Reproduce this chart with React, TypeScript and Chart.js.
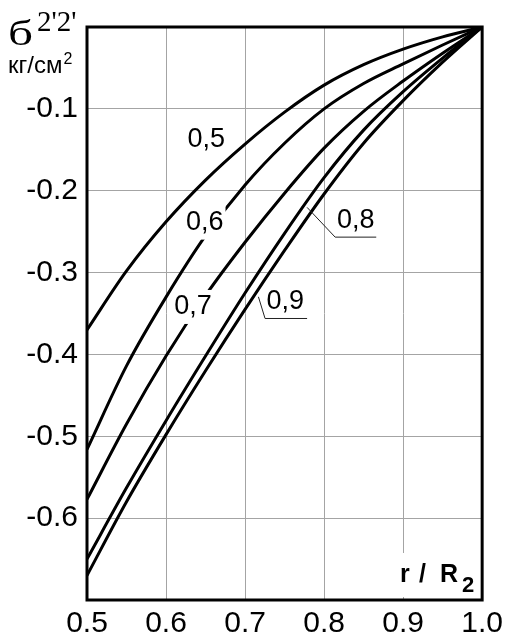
import { useEffect, useRef } from 'react';
import { Chart, registerables } from 'chart.js';

Chart.register(...registerables);

// r / R2 sample points shared by every curve
const radius = [0.5, 0.55, 0.6, 0.65, 0.7, 0.75, 0.8, 0.85, 0.9, 0.95, 1.0];

// σ2'2' (кг/см²) for each R1/R2 ratio
const stress05 = [-0.37, -0.298, -0.238, -0.187, -0.143, -0.104, -0.071, -0.046, -0.027, -0.012, 0];
const stress06 = [-0.516, -0.414, -0.33, -0.255, -0.193, -0.142, -0.1, -0.069, -0.045, -0.022, 0];
const stress07 = [-0.577, -0.485, -0.402, -0.328, -0.263, -0.203, -0.148, -0.103, -0.066, -0.032, 0];
const stress08 = [-0.65, -0.563, -0.481, -0.402, -0.325, -0.252, -0.184, -0.126, -0.079, -0.038, 0];
const stress09 = [-0.67, -0.58, -0.498, -0.42, -0.345, -0.273, -0.204, -0.142, -0.09, -0.043, 0];

const seriesNames = ['0,5', '0,6', '0,7', '0,8', '0,9'];
const seriesValues = [stress05, stress06, stress07, stress08, stress09];

const xTicks = [0.5, 0.6, 0.7, 0.8, 0.9, 1.0];
const yTicks = [-0.1, -0.2, -0.3, -0.4, -0.5, -0.6];

// Curve captions, placed in data units; some sit on their curve with a white knock-out
const captions = [
  { text: '0,5', x: 0.651, y: -0.137 },
  { text: '0,6', x: 0.649, y: -0.239, knockout: true },
  { text: '0,7', x: 0.634, y: -0.342, knockout: true },
  { text: '0,8', x: 0.84, y: -0.237, leader: [[0.7785, -0.2204], [0.814, -0.2567], [0.866, -0.2567]] },
  { text: '0,9', x: 0.751, y: -0.335, leader: [[0.7169, -0.3296], [0.7253, -0.3561], [0.7785, -0.3561]] },
];

const SANS = '"Liberation Sans", Arial, sans-serif';
const SERIF = '"Liberation Serif", "Times New Roman", serif';

const decorations = {
  id: 'decorations',
  afterDatasetsDraw(chart: any) {
    const { ctx, chartArea, scales } = chart;
    const xs = scales.x;
    const ys = scales.y;
    ctx.save();

    // captions
    ctx.font = `27px ${SANS}`;
    ctx.textAlign = 'center';
    ctx.textBaseline = 'middle';
    for (const c of captions) {
      const px = xs.getPixelForValue(c.x);
      const py = ys.getPixelForValue(c.y);
      const w = ctx.measureText(c.text).width;
      if (c.knockout) {
        ctx.fillStyle = '#fff';
        ctx.fillRect(px - w / 2 - 2, py - 17, w + 4, 34);
      }
      if (c.leader) {
        ctx.strokeStyle = '#222';
        ctx.lineWidth = 1;
        ctx.beginPath();
        c.leader.forEach(([lx, ly]: number[], i: number) => {
          const a = xs.getPixelForValue(lx);
          const b = ys.getPixelForValue(ly);
          if (i === 0) ctx.moveTo(a, b);
          else ctx.lineTo(a, b);
        });
        ctx.stroke();
      }
      ctx.fillStyle = '#000';
      ctx.fillText(c.text, px, py);
    }

    // axis name r / R2, with white backing over the grid
    ctx.fillStyle = '#fff';
    ctx.fillRect(396, 553, 86, 44);
    ctx.fillStyle = '#000';
    ctx.textAlign = 'left';
    ctx.textBaseline = 'alphabetic';
    ctx.font = `bold 25px ${SANS}`;
    ctx.fillText('r', 400, 582);
    ctx.fillText('/', 419, 582);
    ctx.fillText('R', 440, 582);
    ctx.font = `bold 22px ${SANS}`;
    ctx.fillText('2', 462, 592);

    // plot frame
    ctx.strokeStyle = '#000';
    ctx.lineWidth = 3;
    ctx.strokeRect(chartArea.left, chartArea.top, chartArea.right - chartArea.left, chartArea.bottom - chartArea.top);

    // stress symbol and unit
    ctx.font = `35px ${SERIF}`;
    const bw = ctx.measureText('б').width;
    ctx.save();
    ctx.translate(8, 45);
    ctx.scale(25 / bw, 1);
    ctx.fillText('б', 0, 0);
    ctx.restore();
    ctx.font = `29px ${SERIF}`;
    ctx.fillText("2'2'", 37, 31);
    ctx.font = `24px ${SANS}`;
    ctx.fillText('кг/см', 8, 73);
    const uw = ctx.measureText('кг/см').width;
    ctx.font = `16px ${SANS}`;
    ctx.fillText('2', 8 + uw + 1, 64);

    ctx.restore();
  },
};

export default function App() {
  const canvasRef = useRef<HTMLCanvasElement | null>(null);

  useEffect(() => {
    const canvas = canvasRef.current;
    if (!canvas) return;
    const chart = new Chart(canvas, {
      type: 'line',
      data: {
        datasets: seriesValues.map((vals, i) => ({
          label: seriesNames[i],
          data: radius.map((r, j) => ({ x: r, y: vals[j] })),
          borderColor: '#000',
          borderWidth: 3,
          pointRadius: 0,
          fill: false,
          cubicInterpolationMode: 'monotone' as const,
        })),
      },
      options: {
        animation: false,
        responsive: false,
        maintainAspectRatio: false,
        layout: { padding: { top: 27, right: 23, left: 0, bottom: 0 } },
        plugins: { legend: { display: false }, tooltip: { enabled: false } },
        scales: {
          x: {
            type: 'linear',
            min: 0.5,
            max: 1.0,
            afterBuildTicks: (s: any) => {
              s.ticks = xTicks.map((v) => ({ value: v }));
            },
            afterFit: (s: any) => {
              s.height = 41;
            },
            ticks: {
              color: '#000',
              font: { family: SANS, size: 30 },
              padding: 6,
              maxRotation: 0,
              autoSkip: false,
              callback: (v: any) => Number(v).toFixed(1),
            },
            grid: { color: '#a4a4a4', lineWidth: 1, drawTicks: false },
            border: { display: false },
          },
          y: {
            type: 'linear',
            min: -0.7,
            max: 0,
            afterBuildTicks: (s: any) => {
              s.ticks = yTicks.map((v) => ({ value: v }));
            },
            afterFit: (s: any) => {
              s.width = 87;
            },
            ticks: {
              color: '#000',
              font: { family: SANS, size: 30 },
              padding: 9,
              autoSkip: false,
              callback: (v: any) => Number(v).toFixed(1),
            },
            grid: { color: '#a4a4a4', lineWidth: 1, drawTicks: false },
            border: { display: false },
          },
        },
      },
      plugins: [decorations],
    });
    return () => chart.destroy();
  }, []);

  return (
    <div style={{ position: 'fixed', left: 0, top: 0, width: 509, height: 641, background: '#fff' }}>
      <canvas ref={canvasRef} width={509} height={641} />
    </div>
  );
}
